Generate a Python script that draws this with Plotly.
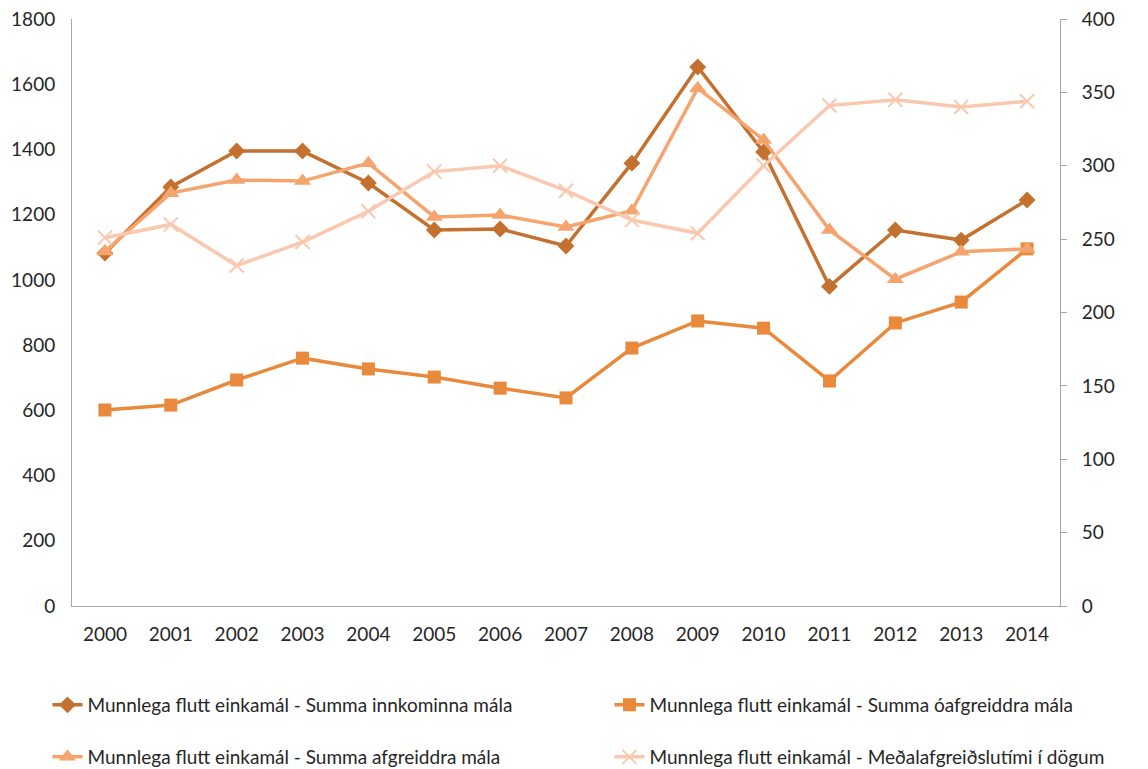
import plotly.graph_objects as go

years = [str(y) for y in range(2000, 2015)]

innkomin = [1082, 1285, 1395, 1395, 1297, 1153, 1156, 1104, 1358, 1653, 1392, 980, 1153, 1122, 1245]
oafgreidd = [601, 616, 693, 760, 727, 702, 668, 638, 791, 874, 852, 690, 868, 932, 1095]
afgreidd = [1087, 1266, 1306, 1303, 1358, 1193, 1199, 1162, 1212, 1588, 1429, 1153, 1002, 1086, 1095]
medaltimi = [251, 260, 232, 248, 269, 296, 300, 283, 263, 254, 300, 341, 345, 340, 344]

names = [
    "Munnlega flutt einkamál - Summa innkominna mála",
    "Munnlega flutt einkamál - Summa óafgreiddra mála",
    "Munnlega flutt einkamál - Summa afgreiddra mála",
    "Munnlega flutt einkamál - Meðalafgreiðslutími í dögum",
]

FONT = "Lato, 'Open Sans', sans-serif"
TXT = "#262626"

fig = go.Figure()

# vinstri ás
fig.add_trace(go.Scatter(
    x=years, y=innkomin, name=names[0], mode="lines+markers",
    line=dict(color="#C47130", width=3.5),
    marker=dict(symbol="diamond", size=13, color="#C47130"),
    legend="legend",
))
fig.add_trace(go.Scatter(
    x=years, y=oafgreidd, name=names[1], mode="lines+markers",
    line=dict(color="#E8893C", width=3.5),
    marker=dict(symbol="square", size=13, color="#E8893C"),
    legend="legend2",
))
fig.add_trace(go.Scatter(
    x=years, y=afgreidd, name=names[2], mode="lines+markers",
    line=dict(color="#F5A46E", width=3.5),
    marker=dict(symbol="triangle-up", size=15, color="#F5A46E"),
    legend="legend3",
))
# hægri ás
fig.add_trace(go.Scatter(
    x=years, y=medaltimi, name=names[3], mode="lines+markers", yaxis="y2",
    line=dict(color="#F9C8AE", width=3.5),
    marker=dict(symbol="x-thin-open", size=14, line=dict(color="#F9C8AE", width=2)),
    legend="legend4",
))

axis_font = dict(family=FONT, size=19, color=TXT)


def leg(x, y):
    return dict(
        orientation="h",
        x=x, xanchor="left",
        y=y, yanchor="top",
        font=dict(family=FONT, size=19, color=TXT),
        bgcolor="rgba(0,0,0,0)",
    )


# síðan hefur 8px spássíu í body, svo myndin byrjar í (8, 8)
fig.update_layout(
    width=1140,
    height=761,
    showlegend=True,
    paper_bgcolor="white",
    plot_bgcolor="white",
    margin=dict(l=64, r=88, t=11, b=163, autoexpand=False),
    font=dict(family=FONT, size=19, color=TXT),
    xaxis=dict(
        type="category",
        range=[-0.5, 14.5],
        showgrid=False,
        showline=True,
        linecolor="#A6A6A6",
        linewidth=1,
        ticks="outside",
        ticklen=11,
        tickcolor="rgba(0,0,0,0)",
        tickfont=axis_font,
        zeroline=False,
    ),
    yaxis=dict(
        range=[0, 1800],
        dtick=200,
        showgrid=False,
        showline=True,
        linecolor="#A6A6A6",
        ticks="outside",
        ticklen=12,
        tickcolor="rgba(0,0,0,0)",
        tickfont=axis_font,
        ticklabeloverflow="allow",
        zeroline=False,
    ),
    yaxis2=dict(
        range=[0, 400],
        dtick=50,
        overlaying="y",
        side="right",
        showgrid=False,
        showline=True,
        linecolor="#A6A6A6",
        ticks="outside",
        ticklen=6,
        tickcolor="#A6A6A6",
        ticklabelstandoff=11,
        tickfont=axis_font,
        ticklabeloverflow="allow",
        zeroline=False,
    ),
    legend=leg(-0.0248, -0.1363),
    legend2=leg(0.5440, -0.1363),
    legend3=leg(-0.0248, -0.2249),
    legend4=leg(0.5440, -0.2249),
)

fig.write_html("out.html")
